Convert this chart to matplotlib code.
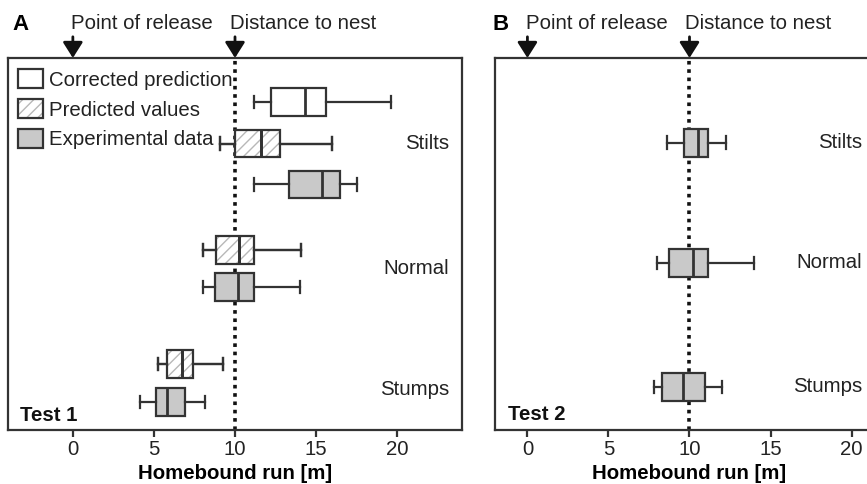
import matplotlib
matplotlib.use("Agg")
import matplotlib.pyplot as plt
from matplotlib.patches import Patch

plt.rcParams['font.family'] = ['Liberation Sans', 'DejaVu Sans']

# box values: whisker low, q1, median, q3, whisker high  [m]
groups = ['Stilts', 'Normal', 'Stumps']
legend_labels = ['Corrected prediction', 'Predicted values', 'Experimental data']

# Test 1
a_corr_stilts = [11.2, 12.25, 14.3, 15.6, 19.6]
a_pred_stilts = [9.05, 10.0, 11.6, 12.8, 16.0]
a_exp_stilts = [11.15, 13.3, 15.35, 16.5, 17.5]
a_pred_normal = [8.0, 8.8, 10.25, 11.2, 14.05]
a_exp_normal = [8.0, 8.75, 10.2, 11.2, 14.0]
a_pred_stumps = [5.25, 5.8, 6.75, 7.4, 9.25]
a_exp_stumps = [4.15, 5.1, 5.8, 6.9, 8.15]

# Test 2
b_exp_stilts = [8.6, 9.65, 10.55, 11.15, 12.25]
b_exp_normal = [8.0, 8.75, 10.2, 11.15, 14.0]
b_exp_stumps = [7.8, 8.3, 9.6, 10.95, 12.0]

release = 0
nest = 10

EDGE = '#333333'
GRAY = '#c9c9c9'
HATCH_C = '#b8b8b8'
BOX_H = 0.74
CAP_W = 0.34
FS = 14.7


def to_stats(v):
    return [dict(whislo=v[0], q1=v[1], med=v[2], q3=v[3], whishi=v[4], fliers=[])]


def draw_box(ax, v, y, kind):
    common = dict(positions=[y], widths=BOX_H, capwidths=CAP_W,
                  orientation='horizontal', patch_artist=True, showfliers=False,
                  whiskerprops=dict(color=EDGE, lw=1.6),
                  capprops=dict(color=EDGE, lw=1.6),
                  medianprops=dict(color=EDGE, lw=2.0))
    if kind == 'hatch':
        ax.bxp(to_stats(v), boxprops=dict(facecolor='white', edgecolor=HATCH_C,
                                          hatch='///', lw=0), **common)
        ax.bxp(to_stats(v), boxprops=dict(facecolor='none', edgecolor=EDGE, lw=1.6),
               **common)
    else:
        fc = GRAY if kind == 'gray' else 'white'
        ax.bxp(to_stats(v), boxprops=dict(facecolor=fc, edgecolor=EDGE, lw=1.6),
               **common)


def style_axes(ax, xlim):
    ax.set_xlim(*xlim)
    ax.set_ylim(0, 10)
    ax.set_yticks([])
    ax.set_xticks([0, 5, 10, 15, 20])
    for s in ax.spines.values():
        s.set_color(EDGE)
        s.set_linewidth(1.6)
    ax.tick_params(axis='x', direction='out', length=5, width=1.6, color=EDGE,
                   labelsize=FS, labelcolor='#222222', pad=2)
    ax.set_xlabel('Homebound run [m]', fontsize=FS, fontweight='bold', labelpad=3.5)
    ax.axvline(nest, color='#111111', lw=2.6, ls=(0, (1, 1.3)), zorder=0.5)
    trans = ax.get_xaxis_transform()
    for xv, txt, dx in [(release, 'Point of release', -0.1), (nest, 'Distance to nest', -0.3)]:
        ax.annotate('', xy=(xv, 1.0), xycoords=trans, xytext=(xv, 1.057), textcoords=trans,
                    arrowprops=dict(arrowstyle='-|>,head_length=0.95,head_width=0.6',
                                    color='#111111', lw=2, shrinkA=0, shrinkB=0),
                    annotation_clip=False)
        ax.text(xv + dx, 1.092, txt, transform=trans, ha='left', va='center',
                fontsize=FS, color='#222222')


fig = plt.figure(figsize=(8.67, 4.84), dpi=100)
ax1 = fig.add_axes([8 / 867, 54 / 484, 454 / 867, 372 / 484])
ax2 = fig.add_axes([495 / 867, 54 / 484, 389 / 867, 372 / 484])

style_axes(ax1, (-4, 24))
style_axes(ax2, (-2, 22))

# Test 1 boxes
draw_box(ax1, a_corr_stilts, 8.82, 'white')
draw_box(ax1, a_pred_stilts, 7.7, 'hatch')
draw_box(ax1, a_exp_stilts, 6.6, 'gray')
draw_box(ax1, a_pred_normal, 4.84, 'hatch')
draw_box(ax1, a_exp_normal, 3.84, 'gray')
draw_box(ax1, a_pred_stumps, 1.77, 'hatch')
draw_box(ax1, a_exp_stumps, 0.75, 'gray')

# Test 2 boxes
draw_box(ax2, b_exp_stilts, 7.72, 'gray')
draw_box(ax2, b_exp_normal, 4.49, 'gray')
draw_box(ax2, b_exp_stumps, 1.16, 'gray')

for ax, ys, xr in [(ax1, [7.7, 4.35, 1.08], 23.2), (ax2, [7.72, 4.49, 1.16], 20.65)]:
    for g, yy in zip(groups, ys):
        ax.text(xr, yy, g, ha='right', va='center', fontsize=FS, color='#222222')
    ax.set_yticks([])

ax1.text(0.026, 0.04, 'Test 1', transform=ax1.transAxes, fontsize=FS,
         fontweight='bold', va='center', ha='left', color='#111111')
ax2.text(0.033, 0.043, 'Test 2', transform=ax2.transAxes, fontsize=FS,
         fontweight='bold', va='center', ha='left', color='#111111')

handles = [Patch(facecolor='white', edgecolor=EDGE, lw=1.6),
           (Patch(facecolor='white', edgecolor=HATCH_C, hatch='///', lw=0),
            Patch(facecolor='none', edgecolor=EDGE, lw=1.6)),
           Patch(facecolor=GRAY, edgecolor=EDGE, lw=1.6)]
ax1.legend(handles, legend_labels, loc='upper left', bbox_to_anchor=(0.022, 0.97),
           frameon=False, fontsize=FS, borderpad=0, borderaxespad=0,
           handlelength=1.22, handleheight=1.08, handletextpad=0.3, labelspacing=0.45,
           labelcolor='#222222')

fig.text(12 / 867, 1 - 24 / 484, 'A', fontsize=16, fontweight='bold', va='center', ha='left')
fig.text(493 / 867, 1 - 24 / 484, 'B', fontsize=16, fontweight='bold', va='center', ha='left')

fig.savefig('out.png', dpi=100)
